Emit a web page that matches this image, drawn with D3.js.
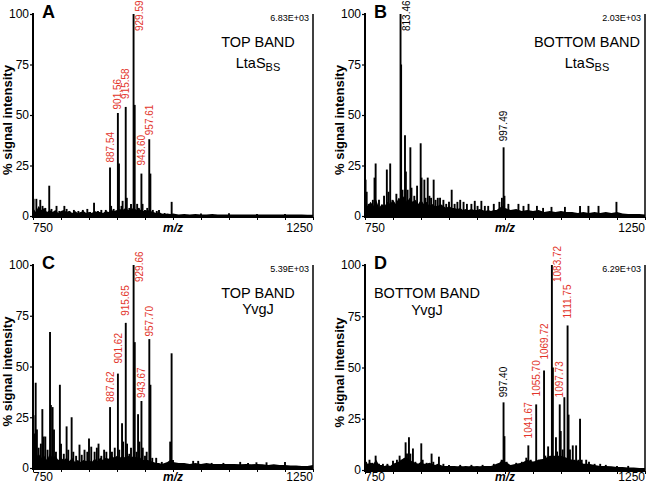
<!DOCTYPE html>
<html><head><meta charset="utf-8">
<script src="https://cdn.jsdelivr.net/npm/d3@7"></script>
<style>
html,body{margin:0;padding:0;background:#fff;}
svg text{font-family:Arial,"Liberation Sans",sans-serif;}
</style></head>
<body><svg id="chart" width="650" height="487"></svg>
<script>
// ---------- DATA ----------
const xTicks = [750,800,850,900,950,1000,1050,1100,1150,1200,1250];
const xTickLabels = ["750","1250"];
const yTicks = [0,25,50,75,100];
const panelLetters = ["A","B","C","D"];
const scaleFactors = ["6.83E+03","2.03E+03","5.39E+03","6.29E+03"];
const bandTitles = ["TOP BAND","BOTTOM BAND","TOP BAND","BOTTOM BAND"];
const proteinNames = ["LtaS","LtaS","YvgJ","YvgJ"];
const proteinSubs = ["BS","BS","",""];

// baseline noise grid (m/z)
const baseMz = [750,755,760,765,770,775,780,785,790,795,800,805,810,815,820,825,830,835,840,845,850,855,860,865,870,875,880,885,890,895,900,905,910,915,920,925,930,935,940,945,950,955,960,965,970,975,980,985,990,995,1000,1010,1020,1030,1040,1050,1060,1070,1080,1090,1100,1110,1120,1130,1140,1150,1160,1170,1180,1190,1200,1210,1220,1230,1240,1250];
const baseA = [4,2,5,3,4,2,3,2,3,1.5,2.5,3,2,2.5,1.5,2.5,1.5,2,2.5,1.5,2,1.5,2.5,2,2,1.5,2.5,2,3,2.5,3,3.5,3,4,3,3.5,4,3,3.5,2.5,2.5,3,2.5,2,1.5,2,1.2,1,1.2,1,1.2,0.8,1,0.8,1,0.8,0.8,1,0.8,0.8,0.8,0.8,0.8,0.7,0.8,0.7,0.8,0.7,0.8,0.7,0.7,0.7,0.7,0.7,0.6,0.6];
const baseB = [10,5,7,5,8,4,6,5,7,6,8,6,9,8,10,7,9,7,8,6,8,6,7,5,6,5,5,6,5,4,5,4,4,3.5,4,3,3.5,3,3.5,3,3,3.5,3,2.5,3,2.5,3,3,4,5,4,3,3.5,2.5,3,2.5,3,2,2.5,2,2.5,2,2,1.5,2,1.5,2,1.5,2,1.5,2,1.2,1,1,1,0.8];
const baseC = [8,5,7,5,6,4,7,5,6,4,5,4,5,3.5,5,3,4,3,4,3.5,4,3,4.5,3.5,5,4,5,4.5,6,5,6,5,6,5,6,5,6,5,5.5,4,4,4,3.5,3,2.5,2.5,2,2.5,3,4,3,2.5,2.5,2,2.5,2,2.5,2,2,2,2,2,1.8,2,1.8,2,1.8,1.5,1.8,1.5,1.5,1.2,1.2,1,1,1.5];
const baseD = [4,3,3.5,3,5,2.5,2.5,2,2.5,2,3,3.5,4,5,6,6,5,4,3.5,3,4,3,3,3.5,3,2.5,3,2.5,2,2,2,2,2,1.8,2,1.8,2,1.8,2,1.8,2,1.8,2,2,2,2,2.5,3,3.5,5,4,2.5,3,3.5,5,4,5,5.5,7,7,7,6,5,4.5,3,3,2.5,2,2,1.8,1.5,1.5,1.2,1.2,1,1];

// peaks: [m/z, % intensity]
const peaksA = [[751,8.5],[756,8.5],[763,8],[767,5],[772,4],[779,15],[783,3.5],[792,5],[797,2.5],[806,5],[810,3.5],[815,2.5],[823,3],[831,2.5],[839,3],[847,3.5],[852,2],[859,6.5],[866,2.5],[872,3],[880,3],[887.54,24],[889.5,5],[894,3.5],[901.56,51],[903.5,26],[908,5],[910,7.5],[915.58,54],[917.5,9],[922,4],[925,6],[929.59,100],[931.6,55],[936,6],[939,4],[943.6,21],[945.6,6],[950,3],[954,4],[957.61,38],[959.6,21],[964,3],[971,2.5],[975,3],[985,1.5],[997.6,7],[1050,1.2],[1100,1.3],[1150,1],[1200,1]];
const peaksB = [[751,18],[753,12],[757,6],[764,8],[767,19],[769,26],[775,8],[784,10],[789,23],[792,12],[795,26],[799,8],[806,11],[813.46,100],[814.5,75],[817,13],[821.4,40],[823,22],[826,13],[831,34],[833,14],[838,10],[843,15],[849.4,36],[851,19],[856,18],[858,9],[862,19],[865,10],[868,9],[872.6,18],[876,8],[880,9],[884,9],[890,8],[895,6],[900,7],[904.8,13],[910,6],[915,7],[920,8],[926,7],[932,6],[940,6],[946,7.5],[951,5],[957.8,7.5],[964,5],[970,5],[980,6],[990,7],[994.5,9],[997.49,34],[999,10],[1006,6],[1024,6],[1033,5],[1042,6],[1057,5],[1068,4],[1083,4.5],[1107,4.5],[1134,5],[1149,5],[1167,5],[1199,7]];
const peaksC = [[751,26],[752.5,17],[754.8,42],[757,19],[760,10],[764,12],[766.7,29],[769,15.5],[772,15.5],[776,9],[780.4,67],[782,31],[785,30],[787.5,19],[791,8],[798,41],[800,12],[805,7],[810,20.5],[813,9],[819,25],[822,8],[827,6],[833,11.5],[837,6.5],[842,9],[847,8],[850,14.5],[854,10.5],[860,8],[864,10],[867,12],[872,6],[877,9],[881,8],[887.62,30],[891,8],[896,10],[901.62,46.5],[904,9],[909,22],[911,13],[915.65,71.5],[918,12],[922,7],[925,10],[929.66,100],[931.7,62],[935,8],[937.6,26.5],[940,13],[943.67,33],[946,10],[950,6],[953,8],[957.7,63.5],[959.7,41],[963,5],[970,5],[980,3],[995,13],[997.5,56.5],[1000,4],[1036,3.5],[1045,3.5],[1069,2.5],[1090,2.5],[1120,3],[1134,2.5],[1149,2.8],[1167,2.8],[1200,3]];
const peaksD = [[752,4],[758,5],[763,3.5],[769,7],[775,3],[782,3],[790,3],[800,4.5],[807,5],[811.8,7],[815,5],[822.5,13.5],[825,8],[828.5,16],[831,8],[835.6,10.5],[840,4],[845,3],[850.5,13],[853,5],[860,3.5],[868.9,8],[872,4],[882,6.5],[890,3],[900,2.5],[920,2.5],[940,2.5],[960,2.5],[980,3],[990,3],[994,5],[997.4,33],[999,16.5],[1003,4],[1020,3.5],[1030,4],[1038,6],[1041.67,12],[1046,5],[1050,4],[1055.7,32],[1060,5],[1064,5],[1069.72,48.5],[1072,7],[1077,11.5],[1080,6],[1083.72,100],[1085.5,50],[1091,16],[1093,9],[1097.73,32],[1099.5,19],[1103,10],[1106,35.5],[1111.75,70.5],[1113.5,27],[1116,10],[1121,12],[1124,5],[1127,12],[1131,5],[1134,25],[1137,5],[1145,5],[1150,4],[1160,3],[1170,3],[1180,2.5],[1200,2],[1220,2]];

const labelsA = ["887.54","901.56","915.58","929.59","943.60","957.61"];
const labelsB = ["813.46","997.49"];
const labelsC = ["887.62","901.62","915.65","929.66","943.67","957.70"];
const labelsD = ["997.40","1041.67","1055.70","1069.72","1083.72","1097.73","1111.75"];
const blackLabels = ["813.46","997.49","997.40"];

// ---------- LAYOUT ----------
const panels = [
  {x0:33, x1:313, y0:14, y1:216, tickY:232, base:baseA, peaks:peaksA, labels:labelsA, bandX:258, bandY:47, nameY:68},
  {x0:365, x1:645, y0:14, y1:216, tickY:232, base:baseB, peaks:peaksB, labels:labelsB, bandX:587, bandY:47, nameY:68},
  {x0:33, x1:313, y0:265, y1:468, tickY:481, base:baseC, peaks:peaksC, labels:labelsC, bandX:258, bandY:298, nameY:314},
  {x0:365, x1:645, y0:265, y1:470, tickY:481, base:baseD, peaks:peaksD, labels:labelsD, bandX:427, bandY:298, nameY:315}
];
// vertical gap (px) between a peak tip and its label
const labelGap = {"887.54":5,"901.56":3.5,"915.58":8,"943.60":8,"957.61":4,
  "887.62":5,"901.62":10,"915.65":7,"943.67":3,"957.70":2.5,
  "997.40":5,"1041.67":7,"1055.70":8,"1069.72":11,"1097.73":7,"1111.75":7,"997.49":6};
const RED = "#e2342a";
const svg = d3.select("#chart");

panels.forEach((p, i) => {
  const g = svg.append("g");
  const x = d3.scaleLinear().domain([750,1250]).range([p.x0, p.x1]);
  const y = d3.scaleLinear().domain([0,100]).range([p.y1, p.y0]);

  const baseData = baseMz.map((m, k) => [m, p.base[k]]);
  g.append("path").datum(baseData)
    .attr("d", d3.area().x(d => x(d[0])).y0(y(0)).y1(d => y(d[1])))
    .attr("fill", "#000");

  g.selectAll("line.pk").data(p.peaks).join("line")
    .attr("x1", d => x(d[0])).attr("x2", d => x(d[0]))
    .attr("y1", y(0)).attr("y2", d => y(d[1]))
    .attr("stroke", "#000").attr("stroke-width", 1.9);

  const ya = g.append("g").attr("transform", `translate(${p.x0},0)`)
    .call(d3.axisLeft(y).tickValues(yTicks).tickSize(3).tickPadding(1).tickFormat(d3.format("d")));
  ya.select(".domain").remove();
  ya.selectAll("text").attr("font-size", 12).attr("fill", "#000").attr("font-family", "Arial, 'Liberation Sans', sans-serif");
  ya.selectAll("line").attr("stroke-width", 1.2);

  const xa = g.append("g").attr("transform", `translate(0,${p.y1 + 1})`)
    .call(d3.axisBottom(x).tickValues(xTicks).tickSize(3).tickFormat(""));
  xa.select(".domain").remove();
  xa.selectAll("line").attr("stroke-width", 1);

  g.append("line").attr("x1", p.x0).attr("x2", p.x0).attr("y1", p.y0 - 1).attr("y2", p.y1 + 2)
    .attr("stroke", "#000").attr("stroke-width", 2);
  g.append("line").attr("x1", p.x0).attr("x2", p.x1).attr("y1", p.y1 + 1).attr("y2", p.y1 + 1)
    .attr("stroke", "#000").attr("stroke-width", 2);
  g.append("line").attr("x1", p.x1).attr("x2", p.x1).attr("y1", p.y0).attr("y2", p.y1 + 2)
    .attr("stroke", "#000").attr("stroke-width", 1.5);

  g.append("text").attr("x", x(+xTickLabels[0])).attr("y", p.tickY)
    .attr("font-size", 12).text(xTickLabels[0]);
  g.append("text").attr("x", x(+xTickLabels[1])).attr("y", p.tickY)
    .attr("text-anchor", "end").attr("font-size", 12).text(xTickLabels[1]);
  g.append("text").attr("x", (p.x0 + p.x1) / 2).attr("y", p.tickY)
    .attr("text-anchor", "middle").attr("font-size", 12).attr("font-weight", "bold")
    .attr("font-style", "italic").text("m/z");

  g.append("text").attr("transform", `translate(${p.x0 - 21},${(p.y0 + p.y1) / 2 + 5}) rotate(-90)`)
    .attr("text-anchor", "middle").attr("font-size", 13).attr("font-weight", "bold")
    .text("% signal intensity");

  g.append("text").attr("x", p.x0 + 9).attr("y", p.y0 + 4)
    .attr("font-size", 18).attr("font-weight", "bold").text(panelLetters[i]);

  g.append("text").attr("x", p.x1 - 4).attr("y", p.y0 + 7)
    .attr("text-anchor", "end").attr("font-size", 9).text(scaleFactors[i]);

  g.append("text").attr("x", p.bandX).attr("y", p.bandY)
    .attr("text-anchor", "middle").attr("font-size", 14.5).text(bandTitles[i]);
  const nm = g.append("text").attr("x", p.bandX).attr("y", p.nameY)
    .attr("text-anchor", "middle").attr("font-size", 14.5);
  nm.append("tspan").text(proteinNames[i]);
  if (proteinSubs[i]) nm.append("tspan").attr("font-size", 11).attr("dy", 3).text(proteinSubs[i]);

  p.labels.forEach(lbl => {
    const m = +lbl;
    const pk = p.peaks.reduce((a, b) => Math.abs(b[0] - m) < Math.abs(a[0] - m) ? b : a);
    const px = x(pk[0]);
    let lx, ly;
    if (pk[1] >= 99) { lx = px + 9.5; ly = y(pk[1]) + 17; }
    else { lx = px + 3.6; ly = y(pk[1]) - (labelGap[lbl] ?? 5); }
    g.append("text").attr("transform", `translate(${lx},${ly}) rotate(-90)`)
      .attr("font-size", 10)
      .attr("fill", blackLabels.includes(lbl) ? "#000" : RED)
      .text(lbl);
  });
});
</script></body></html>
